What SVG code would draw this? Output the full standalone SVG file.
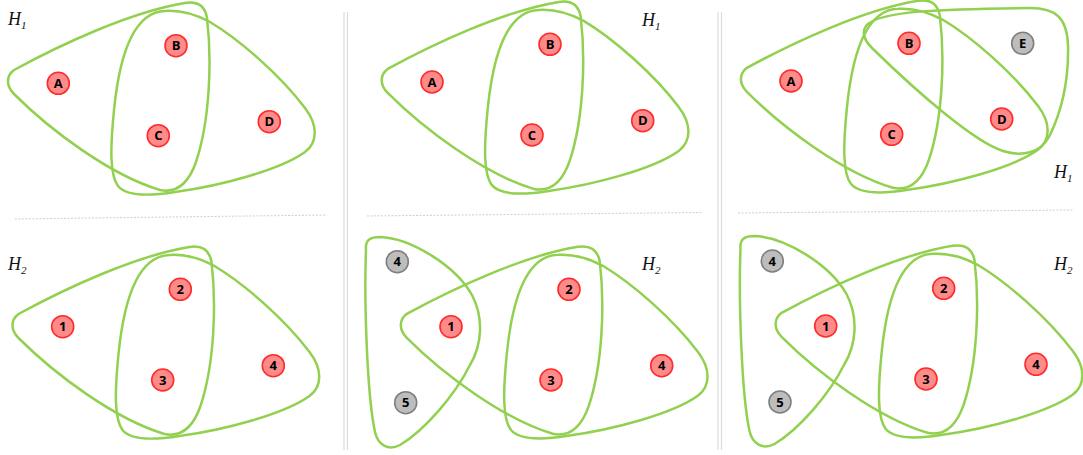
<svg xmlns="http://www.w3.org/2000/svg" width="1083" height="455" viewBox="0 0 1083 455">
<style>
.hull{fill:none;stroke:#92d050;stroke-width:2.5}
.r circle{fill:#ff8a8a;stroke:#ff2a2a;stroke-width:1.6}
.g circle{fill:#bdbdbd;stroke:#7f7f7f;stroke-width:1.6}
.n text{font-family:"Open Sans","Liberation Sans",sans-serif;font-weight:bold;font-size:13px;fill:#000;text-anchor:middle}
.lab{font-family:"Liberation Serif",serif;font-style:italic;font-size:18px;fill:#111}
.lab tspan{font-size:11px}
.sep{stroke:#dcdcdc;stroke-width:1.2}
.hr{stroke:#cfcfcf;stroke-width:1;stroke-dasharray:2 1.5}
</style>
<defs>
<path id="loopL" d="M14,70 C60,45 130,12 185,3 C198,1 205,6 207,18 C212,60 210,120 196,162 C188,185 175,193 160,190 C110,175 50,130 14,94 C6,86 6,76 14,70 Z"/>
<path id="loopR" d="M165,11 C135,12 120,50 114,110 C110,150 110,175 118,186 C126,196 150,196 175,192 C220,186 280,170 305,152 C318,142 318,125 305,108 C280,75 240,40 210,22 C195,14 180,10 165,11 Z"/>
<path id="loop45" d="M366,250 C365,240 370,237 380,237 C410,238 455,265 472,295 C484,318 482,345 470,365 C455,395 425,430 400,445 C388,451 378,445 375,432 C367,395 364,300 366,250 Z"/>
</defs>
<g id="separators">
<line class="sep" x1="344" y1="12" x2="344" y2="450"/>
<line class="sep" x1="347.5" y1="12" x2="347.5" y2="450"/>
<line class="sep" x1="718" y1="12" x2="718" y2="450"/>
<line class="sep" x1="721.5" y1="12" x2="721.5" y2="450"/>
<line class="hr" x1="15" y1="219" x2="327" y2="215"/>
<line class="hr" x1="367" y1="216" x2="702" y2="212.5"/>
<line class="hr" x1="738" y1="213" x2="1073" y2="210"/>
</g>
<g id="connectors">
<use class="hull" href="#loopL"/>
<use class="hull" href="#loopR"/>
<use class="hull" href="#loopL" transform="translate(4.5,244)"/>
<use class="hull" href="#loopR" transform="translate(4.5,244)"/>
<use class="hull" href="#loopL" transform="translate(373.7,-1.1)"/>
<use class="hull" href="#loopR" transform="translate(373.7,-1.1)"/>
<use class="hull" href="#loopL" transform="translate(392.8,243.8)"/>
<use class="hull" href="#loopR" transform="translate(392.8,243.8)"/>
<use class="hull" href="#loop45"/>
<use class="hull" href="#loopL" transform="translate(732.9,-2.2)"/>
<use class="hull" href="#loopR" transform="translate(732.9,-2.2)"/>
<path class="hull" d="M866,26 C878,10 950,9 1030,8 C1056,8 1067,18 1068,45 C1069,85 1060,115 1049,137 C1040,153 1022,157 1003,151 C975,142 920,95 872,48 C864,40 862,32 866,26 Z"/>
<use class="hull" href="#loopL" transform="translate(767.6,242.8)"/>
<use class="hull" href="#loopR" transform="translate(767.6,242.8)"/>
<use class="hull" href="#loop45" transform="translate(374.5,-1)"/>
</g>
<g id="labels">
<text class="lab" x="8" y="25">H<tspan dy="4">1</tspan></text>
<text class="lab" x="8" y="270">H<tspan dy="4">2</tspan></text>
<text class="lab" x="642" y="26">H<tspan dy="4">1</tspan></text>
<text class="lab" x="642" y="270">H<tspan dy="4">2</tspan></text>
<text class="lab" x="1054" y="178">H<tspan dy="4">1</tspan></text>
<text class="lab" x="1054" y="270">H<tspan dy="4">2</tspan></text>
</g>
<g id="p1A" class="n r"><circle cx="58.3" cy="83.3" r="11"/><text x="58.3" y="88">A</text></g>
<g id="p1B" class="n r"><circle cx="176" cy="45.7" r="11"/><text x="176" y="50.4">B</text></g>
<g id="p1C" class="n r"><circle cx="158.3" cy="135.7" r="11"/><text x="158.3" y="140.4">C</text></g>
<g id="p1D" class="n r"><circle cx="269.3" cy="121.7" r="11"/><text x="269.3" y="126.4">D</text></g>
<g id="p1n1" class="n r"><circle cx="62.7" cy="326.7" r="11"/><text x="62.7" y="331.4">1</text></g>
<g id="p1n2" class="n r"><circle cx="180.3" cy="289.3" r="11"/><text x="180.3" y="294">2</text></g>
<g id="p1n3" class="n r"><circle cx="162.7" cy="380" r="11"/><text x="162.7" y="384.7">3</text></g>
<g id="p1n4" class="n r"><circle cx="273.3" cy="365.7" r="11"/><text x="273.3" y="370.4">4</text></g>
<g id="p2A" class="n r"><circle cx="432" cy="82" r="11"/><text x="432" y="86.7">A</text></g>
<g id="p2B" class="n r"><circle cx="550" cy="44.3" r="11"/><text x="550" y="49">B</text></g>
<g id="p2C" class="n r"><circle cx="532" cy="135" r="11"/><text x="532" y="139.7">C</text></g>
<g id="p2D" class="n r"><circle cx="642.7" cy="120.7" r="11"/><text x="642.7" y="125.4">D</text></g>
<g id="p2g4" class="n g"><circle cx="397.3" cy="261.7" r="11"/><text x="397.3" y="266.4">4</text></g>
<g id="p2g5" class="n g"><circle cx="405.7" cy="402.7" r="11"/><text x="405.7" y="407.4">5</text></g>
<g id="p2n1" class="n r"><circle cx="451" cy="326.7" r="11"/><text x="451" y="331.4">1</text></g>
<g id="p2n2" class="n r"><circle cx="569" cy="289.3" r="11"/><text x="569" y="294">2</text></g>
<g id="p2n3" class="n r"><circle cx="551" cy="380" r="11"/><text x="551" y="384.7">3</text></g>
<g id="p2n4" class="n r"><circle cx="661.7" cy="365.7" r="11"/><text x="661.7" y="370.4">4</text></g>
<g id="p3A" class="n r"><circle cx="791" cy="81" r="11"/><text x="791" y="85.7">A</text></g>
<g id="p3B" class="n r"><circle cx="909" cy="43.3" r="11"/><text x="909" y="48">B</text></g>
<g id="p3C" class="n r"><circle cx="891.7" cy="134.3" r="11"/><text x="891.7" y="139">C</text></g>
<g id="p3D" class="n r"><circle cx="1001.7" cy="119" r="11"/><text x="1001.7" y="123.7">D</text></g>
<g id="p3E" class="n g"><circle cx="1022.7" cy="43.3" r="11"/><text x="1022.7" y="48">E</text></g>
<g id="p3g4" class="n g"><circle cx="772.3" cy="261" r="11"/><text x="772.3" y="265.7">4</text></g>
<g id="p3g5" class="n g"><circle cx="780" cy="402" r="11"/><text x="780" y="406.7">5</text></g>
<g id="p3n1" class="n r"><circle cx="825.7" cy="326" r="11"/><text x="825.7" y="330.7">1</text></g>
<g id="p3n2" class="n r"><circle cx="943.7" cy="288.3" r="11"/><text x="943.7" y="293">2</text></g>
<g id="p3n3" class="n r"><circle cx="926" cy="379" r="11"/><text x="926" y="383.7">3</text></g>
<g id="p3n4" class="n r"><circle cx="1036" cy="364.3" r="11"/><text x="1036" y="369">4</text></g>
</svg>
